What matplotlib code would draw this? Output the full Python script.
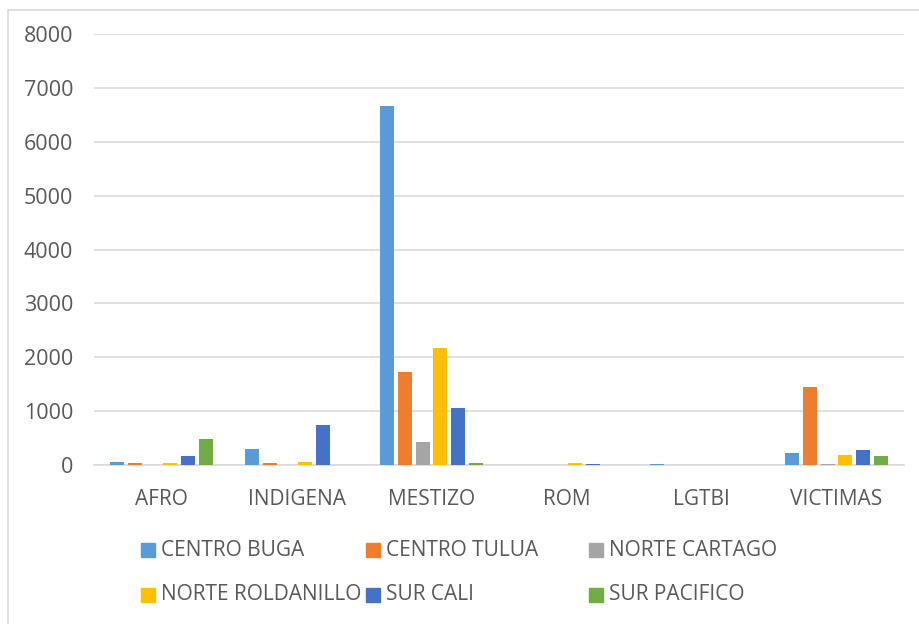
import matplotlib.pyplot as plt
import matplotlib.patches as mpatches
import numpy as np

plt.rcParams['font.family'] = ['Open Sans', 'DejaVu Sans']

categorias = ['AFRO', 'INDIGENA', 'MESTIZO', 'ROM', 'LGTBI', 'VICTIMAS']
series = ['CENTRO BUGA', 'CENTRO TULUA', 'NORTE CARTAGO',
          'NORTE ROLDANILLO', 'SUR CALI', 'SUR PACIFICO']
colores = ['#5B9BD5', '#ED7D31', '#A5A5A5', '#FFC000', '#4472C4', '#70AD47']

centro_buga = [55, 300, 6670, 0, 25, 230]
centro_tulua = [45, 45, 1730, 0, 0, 1440]
norte_cartago = [0, 0, 430, 0, 5, 25]
norte_roldanillo = [45, 55, 2165, 45, 0, 180]
sur_cali = [175, 750, 1050, 10, 0, 270]
sur_pacifico = [480, 0, 30, 0, 0, 175]
valores = [centro_buga, centro_tulua, norte_cartago,
           norte_roldanillo, sur_cali, sur_pacifico]

W, H = 920, 624
fig = plt.figure(figsize=(W / 100, H / 100), dpi=100)
ax = fig.add_axes([94 / W, 1 - 465 / H, 810 / W, 431 / H])

x = np.arange(len(categorias))
paso = 0.131
ancho = 0.104
for i, (nombre, datos) in enumerate(zip(series, valores)):
    ax.bar(x + (i - 2.5) * paso, datos, width=ancho, color=colores[i],
           label=nombre, zorder=3)

ax.set_xlim(-0.5, len(categorias) - 0.5)
ax.set_ylim(0, 8000)
ax.set_yticks(range(0, 8001, 1000))
ax.set_xticks(x)
ax.set_xticklabels(categorias)
ax.grid(axis='y', color='#D9D9D9', linewidth=1.2, zorder=0)
for s in ['left', 'right', 'top']:
    ax.spines[s].set_visible(False)
ax.spines['bottom'].set_color('#D9D9D9')
ax.spines['bottom'].set_linewidth(1.2)
ax.tick_params(axis='both', length=0, colors='#595959')
ax.tick_params(axis='x', pad=17, labelsize=15)
ax.tick_params(axis='y', pad=15, labelsize=15.5)

# leyenda: 3 columnas de igual ancho, por filas
col_x = [141, 366, 589]
fila_y = [550, 595]
for i, nombre in enumerate(series):
    px = col_x[i % 3]
    py = fila_y[i // 3]
    fig.patches.append(mpatches.Rectangle((px / W, 1 - (py + 7) / H), 14 / W, 14 / H,
                                          transform=fig.transFigure,
                                          color=colores[i]))
    fig.text((px + 20) / W, 1 - py / H, nombre, fontsize=15, color='#595959',
             va='center', ha='left')

# marco del grafico
fig.patches.append(mpatches.Rectangle((8 / W, -0.01), 1.0, 1 - 10 / H + 0.01,
                                      transform=fig.transFigure, fill=False,
                                      edgecolor='#D9D9D9', linewidth=1.2))

fig.savefig('out.png', dpi=100)
